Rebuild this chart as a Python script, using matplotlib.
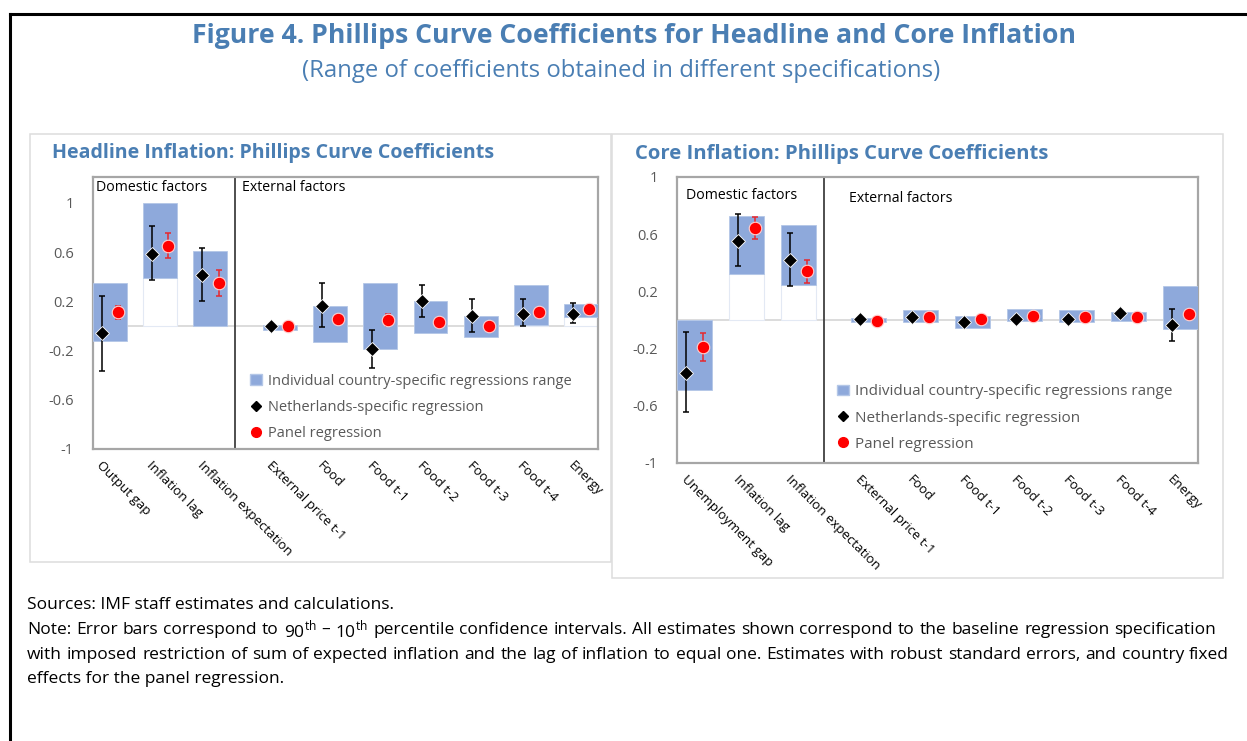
import matplotlib
matplotlib.use("Agg")
import matplotlib.pyplot as plt
from matplotlib.patches import Patch, Rectangle
from matplotlib.lines import Line2D
import matplotlib.transforms as mtransforms
import numpy as np

plt.rcParams['font.family'] = ['Open Sans', 'DejaVu Sans']
plt.rcParams['mathtext.fontset'] = 'custom'
plt.rcParams['mathtext.rm'] = 'Open Sans'

# ---------------- data ----------------
headline_cats = ["Output gap", "Inflation lag", "Inflation expectation", "External price t-1",
                 "Food", "Food t-1", "Food t-2", "Food t-3", "Food t-4", "Energy"]
headline_range_low = [-0.12, 0.39, 0.0, -0.03, -0.13, -0.19, -0.06, -0.09, 0.01, 0.07]
headline_range_high = [0.35, 1.0, 0.61, 0.01, 0.16, 0.35, 0.20, 0.08, 0.33, 0.18]
headline_nl = [-0.06, 0.585, 0.41, 0.0, 0.16, -0.19, 0.20, 0.08, 0.10, 0.10]
headline_nl_low = [-0.37, 0.37, 0.20, -0.01, -0.01, -0.345, 0.07, -0.05, 0.0, 0.02]
headline_nl_high = [0.245, 0.81, 0.63, 0.01, 0.345, -0.035, 0.33, 0.22, 0.22, 0.185]
headline_panel = [0.11, 0.65, 0.35, 0.0, 0.06, 0.05, 0.035, 0.0, 0.117, 0.136]
headline_panel_low = [0.055, 0.55, 0.245, -0.01, 0.04, 0.0, 0.02, -0.01, 0.105, 0.125]
headline_panel_high = [0.16, 0.755, 0.455, 0.01, 0.08, 0.10, 0.05, 0.01, 0.13, 0.15]

core_cats = ["Unemployment gap", "Inflation lag", "Inflation expectation", "External price t-1",
             "Food", "Food t-1", "Food t-2", "Food t-3", "Food t-4", "Energy"]
core_range_low = [-0.49, 0.32, 0.245, -0.012, -0.015, -0.058, -0.005, -0.012, -0.007, -0.063]
core_range_high = [0.0, 0.73, 0.665, 0.012, 0.07, 0.03, 0.074, 0.07, 0.058, 0.237]
core_nl = [-0.37, 0.555, 0.42, 0.007, 0.023, -0.016, 0.007, 0.005, 0.046, -0.037]
core_nl_low = [-0.645, 0.375, 0.24, 0.0, 0.015, -0.025, 0.0, -0.002, 0.04, -0.15]
core_nl_high = [-0.085, 0.74, 0.605, 0.012, 0.03, -0.008, 0.012, 0.012, 0.052, 0.08]
core_panel = [-0.19, 0.645, 0.34, -0.005, 0.019, 0.005, 0.03, 0.023, 0.023, 0.04]
core_panel_low = [-0.29, 0.567, 0.262, -0.01, 0.01, -0.003, 0.022, 0.015, 0.015, 0.03]
core_panel_high = [-0.088, 0.723, 0.417, 0.0, 0.028, 0.013, 0.038, 0.031, 0.031, 0.05]

ytick_vals = [-1, -0.6, -0.2, 0.2, 0.6, 1]
ytick_labels = ["-1", "-0.6", "-0.2", "0.2", "0.6", "1"]
n_domestic = 3

legend_labels = ["Individual country-specific regressions range",
                 "Netherlands-specific regression", "Panel regression"]

sources_line = "Sources: IMF staff estimates and calculations."
note_lines = [
    r"Note: Error bars correspond to 90$^{\mathrm{th}}$ – 10$^{\mathrm{th}}$ percentile confidence intervals. "
    "All estimates shown correspond to the baseline regression specification",
    "with imposed restriction of sum of expected inflation and the lag of inflation to equal one. "
    "Estimates with robust standard errors, and country fixed",
    "effects for the panel regression.",
]

# ---------------- style ----------------
W, H = 1247, 741
BLUE_BAR = '#8EA9DB'
TITLE_BLUE = '#4A7EB3'
GRAY_TXT = '#595959'
RED = '#FF0000'

fig = plt.figure(figsize=(W / 100, H / 100), dpi=100)


def px_axes(x0, y0, x1, y1):
    return fig.add_axes([x0 / W, 1 - y1 / H, (x1 - x0) / W, (y1 - y0) / H])


renderer = fig.canvas.get_renderer()


def fit(t, target_px):
    bb = t.get_window_extent(renderer=renderer)
    t.set_fontsize(t.get_fontsize() * target_px / bb.width)


def ftext(x, y, s, target=None, **kw):
    t = fig.text(x / W, 1 - y / H, s, **kw)
    if target:
        fit(t, target)
    return t


def justified(x0, x1, y, line, **kw):
    words = line.split(" ")
    texts = [fig.text(0, 1 - y / H, w, ha='left', va='center', **kw) for w in words]
    widths = [t.get_window_extent(renderer=renderer).width for t in texts]
    gap = ((x1 - x0) - sum(widths)) / (len(words) - 1)
    x = x0
    for t, w in zip(texts, widths):
        t.set_x(x / W)
        x += w + gap


# outer frame lines
fig.add_artist(Line2D([10 / W, 1], [1 - 14 / H] * 2, color='black', lw=2.2))
fig.add_artist(Line2D([10 / W] * 2, [0, 1 - 14 / H], color='black', lw=2.2))
# chart area boxes (light)
fig.add_artist(Rectangle((30 / W, 1 - 562 / H), (611 - 30) / W, (562 - 134) / H,
                         fill=False, edgecolor='#DDDDDD', lw=1.1))
fig.add_artist(Rectangle((612 / W, 1 - 578 / H), (1223 - 612) / W, (578 - 134) / H,
                         fill=False, edgecolor='#DDDDDD', lw=1.1))

ftext(634, 36, "Figure 4. Phillips Curve Coefficients for Headline and Core Inflation",
      target=883, fontsize=20, fontweight='bold', color=TITLE_BLUE, ha='center', va='center')
ftext(621, 71, "(Range of coefficients obtained in different specifications)",
      target=638, fontsize=16, color=TITLE_BLUE, ha='center', va='center')
ftext(52, 153, "Headline Inflation: Phillips Curve Coefficients", target=445,
      fontsize=14, fontweight='bold', color=TITLE_BLUE, ha='left', va='center')
ftext(635, 154, "Core Inflation: Phillips Curve Coefficients", target=414,
      fontsize=14, fontweight='bold', color=TITLE_BLUE, ha='left', va='center')

# note font: natural width of first note line ~1175 px, then justified
probe = fig.text(0, 0, note_lines[0], fontsize=12)
fit(probe, 1175)
note_fs = probe.get_fontsize()
probe.remove()
ftext(27, 605, sources_line, fontsize=note_fs, color='black', ha='left', va='center')
justified(27, 1216, 630, note_lines[0], fontsize=note_fs, color='black')
justified(27, 1229, 655, note_lines[1], fontsize=note_fs, color='black')
ftext(27, 679, note_lines[2], fontsize=note_fs, color='black', ha='left', va='center')


def draw_panel(ax, cats, rlow, rhigh, nl, nl_lo, nl_hi, pn, pn_lo, pn_hi,
               gap, ylim, divider, dom_xy, ext_xy, leg_anchor, leg_fs, leg_sp, lab_fs):
    n = len(cats)
    idx = np.arange(n)
    left = idx + np.where(idx >= n_domestic, gap, 0.0)
    bw = 0.67
    rlow = np.array(rlow); rhigh = np.array(rhigh)
    # white base bars for positive ranges not reaching zero
    base = np.where(rlow > 0, rlow, 0.0)
    ax.bar(left, base, width=bw, align='edge', color='white', edgecolor='#E3E9F4', lw=0.8, zorder=2)
    ax.bar(left, rhigh - rlow, bottom=rlow, width=bw, align='edge', color=BLUE_BAR,
           edgecolor='#B4C7E7', lw=0.6, zorder=3)
    ax.axhline(0, color='#D9D9D9', lw=1.3, zorder=1)
    xd = left + 0.17
    xp = left + 0.50
    nl = np.array(nl); pn = np.array(pn)
    ax.errorbar(xd, nl, yerr=[nl - np.array(nl_lo), np.array(nl_hi) - nl], fmt='none',
                ecolor='black', elinewidth=1.1, capsize=2.2, capthick=1.1, zorder=4)
    ax.errorbar(xp, pn, yerr=[pn - np.array(pn_lo), np.array(pn_hi) - pn], fmt='none',
                ecolor='#E8272D', elinewidth=1.1, capsize=2.2, capthick=1.1, zorder=4)
    ax.plot(xd, nl, linestyle='none', marker='D', markersize=7.2, color='black',
            markeredgecolor='white', markeredgewidth=0.6, zorder=5)
    ax.plot(xp, pn, linestyle='none', marker='o', markersize=9, color=RED,
            markeredgecolor='#FFD0D0', markeredgewidth=0.8, zorder=5)
    ax.set_xlim(0, left[-1] + bw)
    ax.set_ylim(*ylim)
    ax.axvline(divider, color='#404040', lw=1.3, zorder=2)
    for s in ax.spines.values():
        s.set_color('#A6A6A6')
        s.set_linewidth(1.6)
    ax.set_yticks(ytick_vals)
    ax.set_yticklabels(ytick_labels, color=GRAY_TXT, fontsize=10.5)
    ax.tick_params(axis='y', length=0, pad=14)
    centers = left + bw / 2
    ax.set_xticks(centers)
    ax.set_xticklabels(cats, fontsize=lab_fs, color='black')
    ax.tick_params(axis='x', length=0, pad=10)
    off = mtransforms.ScaledTranslation(-11 / 100, -1 / 100, fig.dpi_scale_trans)
    for lab in ax.get_xticklabels():
        lab.set_rotation(-45)
        lab.set_rotation_mode('anchor')
        lab.set_ha('left')
        lab.set_va('center')
        lab.set_transform(lab.get_transform() + off)
    ax.text(dom_xy[0], dom_xy[1], "Domestic factors", transform=ax.transAxes, fontsize=10.2,
            ha='left', va='center', color='black')
    ax.text(ext_xy[0], ext_xy[1], "External factors", transform=ax.transAxes, fontsize=10.2,
            ha='left', va='center', color='black')
    handles = [Patch(facecolor=BLUE_BAR, edgecolor='#B4C7E7'),
               Line2D([], [], linestyle='none', marker='D', markersize=5, color='black'),
               Line2D([], [], linestyle='none', marker='o', markersize=7, color=RED)]
    leg = ax.legend(handles, legend_labels, loc='upper left', bbox_to_anchor=leg_anchor,
                    frameon=False, fontsize=leg_fs, handlelength=0.8, handletextpad=0.4,
                    labelspacing=leg_sp, borderaxespad=0)
    for t in leg.get_texts():
        t.set_color(GRAY_TXT)


axL = px_axes(93, 177, 598, 449)
draw_panel(axL, headline_cats, headline_range_low, headline_range_high, headline_nl,
           headline_nl_low, headline_nl_high, headline_panel, headline_panel_low,
           headline_panel_high, gap=0.38, ylim=(-1.0, 1.21), divider=2.82,
           dom_xy=(0.005, 0.96), ext_xy=(0.296, 0.96), leg_anchor=(0.30, 0.299),
           leg_fs=10.5, leg_sp=0.78, lab_fs=9.5)

axR = px_axes(677, 177, 1198, 463)
draw_panel(axR, core_cats, core_range_low, core_range_high, core_nl,
           core_nl_low, core_nl_high, core_panel, core_panel_low,
           core_panel_high, gap=0.35, ylim=(-1.0, 1.0), divider=2.83,
           dom_xy=(0.017, 0.935), ext_xy=(0.33, 0.925), leg_anchor=(0.295, 0.296),
           leg_fs=11, leg_sp=0.73, lab_fs=9.5)

fig.savefig("out.png", dpi=100)
